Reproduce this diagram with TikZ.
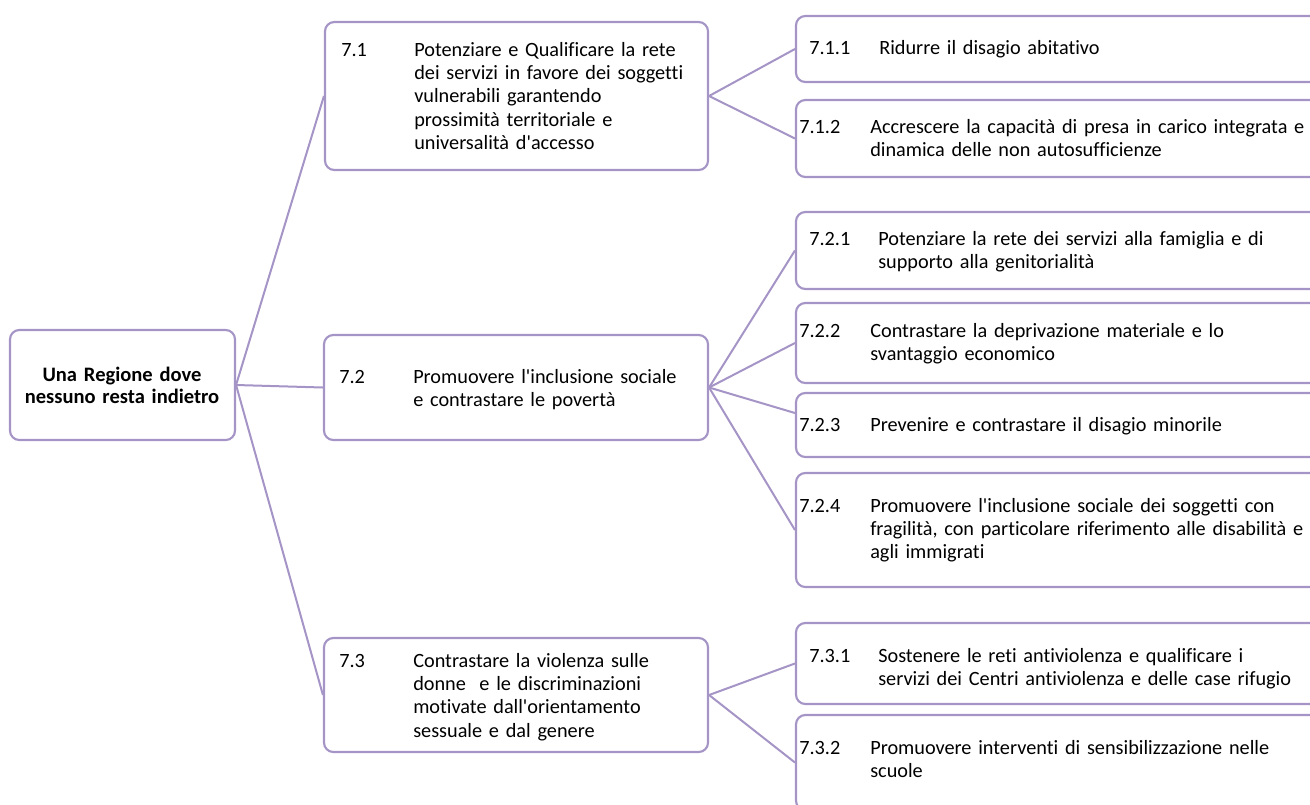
\documentclass[tikz,border=0pt]{standalone}
\usepackage{fontspec}
\setmainfont{Carlito}[Ligatures={TeX,NoCommon}]
\usepackage{tikz}
\usetikzlibrary{fit}
\definecolor{lilla}{RGB}{165,148,198}

\begin{document}
\begin{tikzpicture}[x=0.75pt,y=-0.75pt,
  box/.style={draw=lilla,line width=1.6pt,rounded corners=7pt,inner sep=0pt},
  link/.style={draw=lilla,line width=1.5pt},
  txt/.style={inner sep=0pt,anchor=base west,align=left,text width=400pt,
    font=\fontsize{15.2}{17.5}\selectfont}]
\useasboundingbox (0,0) rectangle (1310,804);
\clip (0,0) rectangle (1310,804);
\node[box,fit={(10,330) (235,440)}] (root) {};
\node[box,fit={(325,22) (708,170)}] (s71) {};
\node[box,fit={(324,335) (708,440)}] (s72) {};
\node[box,fit={(324,638) (708,752)}] (s73) {};
\node[box,fit={(796,16) (1330,82)}] (b711) {};
\node[box,fit={(796,100) (1330,177)}] (b712) {};
\node[box,fit={(796,212) (1330,289)}] (b721) {};
\node[box,fit={(796,303) (1330,383)}] (b722) {};
\node[box,fit={(796,393) (1330,457)}] (b723) {};
\node[box,fit={(796,473) (1330,587)}] (b724) {};
\node[box,fit={(796,623) (1330,704)}] (b731) {};
\node[box,fit={(796,715) (1330,810)}] (b732) {};
\draw[link] (root.east) -- (s71.west);
\draw[link] (root.east) -- (s72.west);
\draw[link] (root.east) -- (s73.west);
\draw[link] (s71.east) -- (b711.west);
\draw[link] (s71.east) -- (b712.west);
\draw[link] (s72.east) -- (b721.west);
\draw[link] (s72.east) -- (b722.west);
\draw[link] (s72.east) -- ([yshift=9pt]b723.west);
\draw[link] (s72.east) -- (b724.west);
\draw[link] (s73.east) -- (b731.west);
\draw[link] (s73.east) -- (b732.west);
\node[txt,anchor=base,align=center,text width=170pt,
  font=\fontsize{15.4}{17}\selectfont\bfseries] (rtxt) at (122,381)
  {Una Regione dove\\nessuno resta indietro};
\node[txt] (n71) at (341,56) {7.1};
\node[txt] (t71) at (414,56) {Potenziare e Qualificare la rete\\dei servizi in favore dei soggetti\\vulnerabili garantendo\\prossimità territoriale e\\universalità d\textquotesingle accesso};
\node[txt] (n72) at (339,383) {7.2};
\node[txt] (t72) at (413,383) {Promuovere l\textquotesingle inclusione sociale\\e contrastare le povertà};
\node[txt] (n73) at (339,667) {7.3};
\node[txt] (t73) at (413,667) {Contrastare la violenza sulle\\donne~ e le discriminazioni\\motivate dall\textquotesingle orientamento\\sessuale e dal genere};
\node[txt] (n711) at (809,54) {7.1.1};
\node[txt] (t711) at (879,54) {Ridurre il disagio abitativo};
\node[txt] (n712) at (799,133) {7.1.2};
\node[txt] (t712) at (870,133) {Accrescere la capacità di presa in carico integrata e\\dinamica delle non autosufficienze};
\node[txt] (n721) at (809,245) {7.2.1};
\node[txt] (t721) at (878,245) {Potenziare la rete dei servizi alla famiglia e di\\supporto alla genitorialità};
\node[txt] (n722) at (799,337) {7.2.2};
\node[txt] (t722) at (870,337) {Contrastare la deprivazione materiale e lo\\svantaggio economico};
\node[txt] (n723) at (799,431) {7.2.3};
\node[txt] (t723) at (870,431) {Prevenire e contrastare il disagio minorile};
\node[txt] (n724) at (799,512) {7.2.4};
\node[txt] (t724) at (870,512) {Promuovere l\textquotesingle inclusione sociale dei soggetti con\\fragilità, con particolare riferimento alle disabilità e\\agli immigrati};
\node[txt] (n731) at (809,662) {7.3.1};
\node[txt] (t731) at (878,662) {Sostenere le reti antiviolenza e qualificare i\\servizi dei Centri antiviolenza e delle case rifugio};
\node[txt] (n732) at (799,754) {7.3.2};
\node[txt] (t732) at (870,754) {Promuovere interventi di sensibilizzazione nelle\\scuole};
\end{tikzpicture}
\end{document}
